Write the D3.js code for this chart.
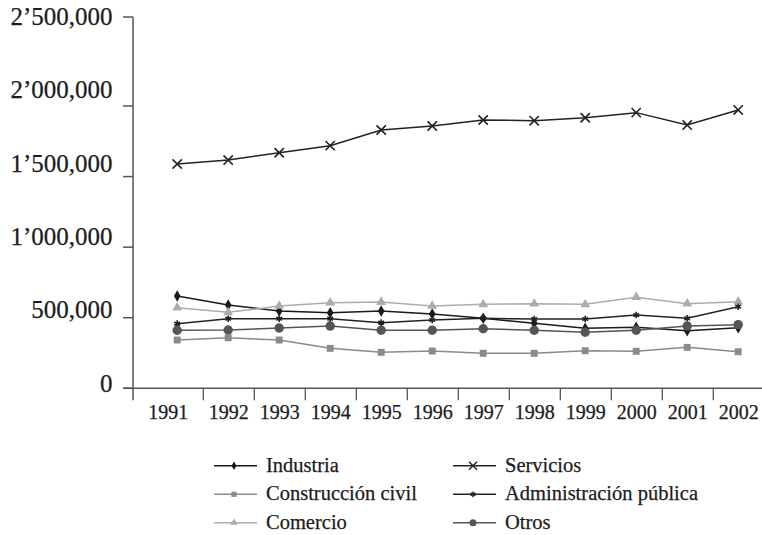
<!DOCTYPE html>
<html lang="es">
<head>
  <meta charset="UTF-8">
  <title>Empleo por sector 1991-2002</title>
  <script src="https://d3js.org/d3.v7.min.js"></script>
  <style>
    body { margin: 0; background: #fff; }
    text { font-family: "Liberation Serif", "DejaVu Serif", serif; fill: #1c1c1c; stroke: #1c1c1c; stroke-width: 0.25px; }
  </style>
</head>
<body>
  <svg id="chart" width="762" height="535"></svg>

  <script>
    const years = [1991, 1992, 1993, 1994, 1995, 1996, 1997, 1998, 1999, 2000, 2001, 2002];

    const industria      = [654000, 590000, 548000, 536000, 548000, 526000, 496000, 460000, 425000, 432000, 408000, 429000];
    const construccion   = [342000, 358000, 342000, 283000, 255000, 264000, 248000, 248000, 266000, 262000, 290000, 259000];
    const comercio       = [571000, 538000, 583000, 606000, 611000, 583000, 595000, 599000, 595000, 645000, 599000, 614000];
    const servicios      = [1589000, 1617000, 1669000, 1719000, 1830000, 1858000, 1901000, 1896000, 1917000, 1953000, 1865000, 1972000];
    const administracion = [458000, 493000, 493000, 493000, 465000, 484000, 496000, 491000, 491000, 519000, 496000, 578000];
    const otros          = [411000, 413000, 427000, 441000, 411000, 411000, 422000, 411000, 397000, 411000, 441000, 451000];

    const yTicks = [0, 500000, 1000000, 1500000, 2000000, 2500000];
    const yTickLabels = ["0", "500,000", "1\u2019000,000", "1\u2019500,000", "2\u2019000,000", "2\u2019500,000"];

    const series = [
      { name: "Industria", values: industria, color: "#1a1a1a", symbol: d3.symbolDiamond, size: 38, filled: true },
      { name: "Construcción civil", values: construccion, color: "#8a8a8a", symbol: d3.symbolSquare, size: 48, filled: true },
      { name: "Comercio", values: comercio, color: "#acacac", symbol: d3.symbolTriangle, size: 42, filled: true },
      { name: "Servicios", values: servicios, color: "#222", symbol: d3.symbolTimes, size: 58, filled: false },
      { name: "Administración pública", values: administracion, color: "#222", symbol: d3.symbolAsterisk, size: 30, filled: false },
      { name: "Otros", values: otros, color: "#555", symbol: d3.symbolCircle, size: 70, filled: true }
    ];

    const svg = d3.select("#chart");
    const axisX = 133, baseY = 388.3, tickLen = 10;

    // the printed scale is uneven above 2 million, so keep it piecewise
    const y = d3.scaleLinear()
      .domain([0, 2000000, 2500000])
      .range([baseY, 106, 17]);

    // labels sit evenly spaced, not exactly on the tick marks
    const yLabel = d3.scaleLinear()
      .domain([0, 2500000])
      .range([383.3, 16.7]);

    const x = d3.scaleBand()
      .domain(years)
      .range([152.3, 764.3])
      .padding(0);

    const axisColor = "#555";

    // y axis
    svg.append("line")
      .attr("x1", axisX).attr("x2", axisX)
      .attr("y1", y(2500000)).attr("y2", baseY + 12)
      .attr("stroke", axisColor).attr("stroke-width", 1.5);

    svg.selectAll(".ytick")
      .data(yTicks)
      .enter().append("line")
      .attr("x1", axisX - tickLen).attr("x2", axisX)
      .attr("y1", d => y(d)).attr("y2", d => y(d))
      .attr("stroke", axisColor).attr("stroke-width", 1.5);

    svg.selectAll(".ylabel")
      .data(yTicks)
      .enter().append("text")
      .attr("x", 112.5)
      .attr("y", d => yLabel(d) + 8.4)
      .attr("text-anchor", "end")
      .style("font-size", "25px")
      .text((d, i) => yTickLabels[i]);

    // x axis
    svg.append("line")
      .attr("x1", axisX - tickLen).attr("x2", 762)
      .attr("y1", baseY).attr("y2", baseY)
      .attr("stroke", axisColor).attr("stroke-width", 1.5);

    svg.selectAll(".xtick")
      .data(years.slice(1))
      .enter().append("line")
      .attr("x1", d => x(d)).attr("x2", d => x(d))
      .attr("y1", baseY).attr("y2", baseY + 12)
      .attr("stroke", axisColor).attr("stroke-width", 1.3);

    // first label is centred between the y axis and the first tick
    svg.selectAll(".xlabel")
      .data(years)
      .enter().append("text")
      .attr("x", (d, i) => {
        const left = i === 0 ? axisX : x(d);
        return (left + x(d) + x.bandwidth()) / 2;
      })
      .attr("y", 419.3)
      .attr("text-anchor", "middle")
      .style("font-size", "20px")
      .text(d => d);

    const cx = d => x(d) + x.bandwidth() / 2 - 0.6;
    const line = d3.line()
      .x((d, i) => cx(years[i]))
      .y(d => y(d));

    series.forEach(s => {
      svg.append("path")
        .datum(s.values)
        .attr("d", line)
        .attr("fill", "none")
        .attr("stroke", s.color)
        .attr("stroke-width", 1.5);

      svg.append("g").selectAll("path")
        .data(s.values)
        .enter().append("path")
        .attr("transform", (d, i) => `translate(${cx(years[i])},${y(d)})`)
        .attr("d", d3.symbol().type(s.symbol).size(s.size))
        .attr("fill", s.filled ? s.color : "none")
        .attr("stroke", s.filled ? "none" : s.color)
        .attr("stroke-width", 1.6);
    });

    // legend, two columns of three
    const legendRows = [465.7, 494.3, 522.7];
    const legendCols = [214, 453];
    const legend = svg.append("g");

    series.forEach((s, i) => {
      const col = Math.floor(i / 3), row = i % 3;
      const lx = legendCols[col], ly = legendRows[row];
      const item = legend.append("g").attr("transform", `translate(${lx},${ly})`);
      item.append("line")
        .attr("x1", 0).attr("x2", 43)
        .attr("y1", 0).attr("y2", 0)
        .attr("stroke", s.color).attr("stroke-width", 1.5);
      item.append("path")
        .attr("transform", "translate(20,0)")
        .attr("d", d3.symbol().type(s.symbol).size(s.filled ? s.size * 0.55 : s.size * 0.75))
        .attr("fill", s.filled ? s.color : "none")
        .attr("stroke", s.filled ? "none" : s.color)
        .attr("stroke-width", 1.4);
      item.append("text")
        .attr("x", 52)
        .attr("y", 6)
        .style("font-size", "20.5px")
        .text(s.name);
    });
  </script>
</body>
</html>
